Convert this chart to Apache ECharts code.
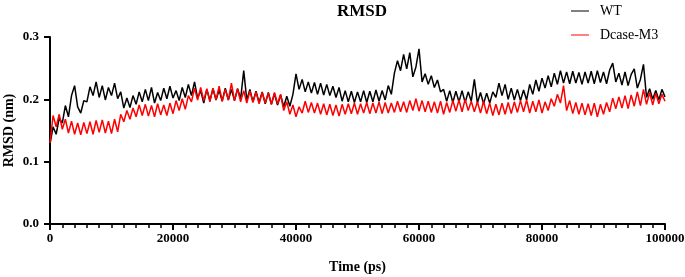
<!DOCTYPE html>
<html>
<head>
<meta charset="utf-8">
<script src="https://cdn.jsdelivr.net/npm/echarts@6/dist/echarts.min.js"></script>
<style>
  html, body { margin: 0; padding: 0; background: #fff; }
  #chart { width: 685px; height: 277px; }
</style>
</head>
<body>
<div id="chart"></div>
<script>
// time step of the sampled points (ps)
var step = 500;
var xTicks = [0, 20000, 40000, 60000, 80000, 100000];
var yTicks = [0.0, 0.1, 0.2, 0.3];

// RMSD (nm), every 500 ps (upper / lower edge of the noisy band)
var wt = [
  0.128, 0.156, 0.144, 0.170, 0.162, 0.190, 0.172, 0.206, 0.222, 0.188,
  0.178, 0.198, 0.196, 0.220, 0.206, 0.228, 0.203, 0.222, 0.199, 0.219,
  0.206, 0.226, 0.201, 0.212, 0.186, 0.202, 0.187, 0.206, 0.192, 0.212,
  0.196, 0.216, 0.198, 0.219, 0.194, 0.211, 0.198, 0.218, 0.201, 0.221,
  0.202, 0.214, 0.198, 0.219, 0.203, 0.224, 0.206, 0.228, 0.202, 0.214,
  0.194, 0.216, 0.198, 0.217, 0.199, 0.215, 0.197, 0.218, 0.199, 0.216,
  0.198, 0.217, 0.201, 0.246, 0.199, 0.216, 0.196, 0.213, 0.195, 0.212,
  0.193, 0.211, 0.192, 0.209, 0.191, 0.207, 0.188, 0.205, 0.189, 0.208,
  0.241, 0.216, 0.232, 0.212, 0.228, 0.210, 0.227, 0.208, 0.226, 0.207,
  0.224, 0.206, 0.221, 0.203, 0.219, 0.197, 0.214, 0.196, 0.213, 0.195,
  0.212, 0.196, 0.214, 0.195, 0.213, 0.196, 0.215, 0.197, 0.214, 0.199,
  0.222, 0.208, 0.242, 0.262, 0.246, 0.272, 0.249, 0.275, 0.236, 0.252,
  0.281, 0.228, 0.241, 0.224, 0.238, 0.219, 0.231, 0.212, 0.216, 0.197,
  0.214, 0.195, 0.213, 0.196, 0.214, 0.195, 0.212, 0.197, 0.232, 0.194,
  0.211, 0.193, 0.210, 0.194, 0.212, 0.203, 0.226, 0.206, 0.224, 0.200,
  0.218, 0.199, 0.216, 0.198, 0.215, 0.199, 0.224, 0.208, 0.231, 0.213,
  0.234, 0.218, 0.238, 0.220, 0.242, 0.224, 0.246, 0.226, 0.244, 0.225,
  0.245, 0.226, 0.243, 0.224, 0.244, 0.226, 0.245, 0.225, 0.246, 0.227,
  0.244, 0.225, 0.247, 0.258, 0.228, 0.242, 0.223, 0.244, 0.222, 0.240,
  0.249, 0.218, 0.232, 0.256, 0.203, 0.217, 0.200, 0.214, 0.199, 0.216,
  0.204
];

var m3 = [
  0.130, 0.174, 0.156, 0.176, 0.152, 0.168, 0.146, 0.165, 0.144, 0.162,
  0.143, 0.163, 0.145, 0.164, 0.144, 0.166, 0.147, 0.167, 0.146, 0.165,
  0.145, 0.168, 0.148, 0.176, 0.164, 0.182, 0.168, 0.186, 0.172, 0.191,
  0.174, 0.192, 0.173, 0.190, 0.172, 0.193, 0.175, 0.191, 0.174, 0.194,
  0.177, 0.198, 0.182, 0.201, 0.184, 0.206, 0.196, 0.218, 0.199, 0.219,
  0.198, 0.217, 0.196, 0.218, 0.199, 0.221, 0.197, 0.216, 0.199, 0.226,
  0.198, 0.217, 0.196, 0.214, 0.194, 0.213, 0.195, 0.212, 0.193, 0.211,
  0.194, 0.210, 0.192, 0.211, 0.193, 0.208, 0.182, 0.196, 0.176, 0.191,
  0.172, 0.188, 0.178, 0.197, 0.179, 0.195, 0.178, 0.194, 0.176, 0.193,
  0.175, 0.192, 0.174, 0.191, 0.173, 0.192, 0.176, 0.193, 0.177, 0.194,
  0.176, 0.193, 0.178, 0.195, 0.177, 0.194, 0.178, 0.196, 0.177, 0.195,
  0.178, 0.194, 0.179, 0.197, 0.180, 0.196, 0.179, 0.198, 0.182, 0.201,
  0.181, 0.198, 0.180, 0.197, 0.179, 0.196, 0.178, 0.197, 0.176, 0.195,
  0.179, 0.198, 0.181, 0.199, 0.180, 0.200, 0.182, 0.197, 0.180, 0.196,
  0.178, 0.197, 0.177, 0.194, 0.174, 0.192, 0.175, 0.194, 0.176, 0.195,
  0.177, 0.196, 0.179, 0.198, 0.180, 0.199, 0.178, 0.197, 0.180, 0.199,
  0.178, 0.196, 0.182, 0.201, 0.189, 0.208, 0.194, 0.222, 0.182, 0.198,
  0.177, 0.195, 0.176, 0.194, 0.175, 0.193, 0.174, 0.194, 0.172, 0.192,
  0.176, 0.195, 0.180, 0.202, 0.185, 0.204, 0.186, 0.206, 0.185, 0.207,
  0.189, 0.212, 0.190, 0.216, 0.192, 0.211, 0.191, 0.210, 0.193, 0.208,
  0.197
];

function pairs(arr) {
  return arr.map(function (v, i) { return [i * step, v]; });
}

var font = '"Liberation Serif", "Times New Roman", serif';
var chart = echarts.init(document.getElementById('chart'));

chart.setOption({
  animation: false,
  backgroundColor: '#fff',
  title: {
    text: 'RMSD',
    left: 357,
    textAlign: 'center',
    top: -2,
    textStyle: { fontFamily: font, fontWeight: 'bold', fontSize: 17, color: '#000' }
  },
  legend: {
    orient: 'vertical',
    left: 566,
    top: -1,
    itemWidth: 18,
    itemHeight: 14,
    itemGap: 10,
    icon: 'path://M0,7 L18,7 L18,8 L0,8 Z',
    textStyle: { fontFamily: font, fontSize: 14, color: '#000', padding: [0, 0, 0, 6] },
    data: ['WT', 'Dcase-M3']
  },
  grid: { left: 50, right: 20, top: 37, bottom: 53, outerBoundsMode: 'none', containLabel: false },
  xAxis: [
    {
      type: 'value',
      min: 0,
      max: 100000,
      interval: 20000,
      name: 'Time (ps)',
      nameLocation: 'middle',
      nameGap: 36,
      nameMoveOverlap: false,
      nameTextStyle: { fontFamily: font, fontWeight: 'bold', fontSize: 14, color: '#000' },
      axisLine: { onZero: false, lineStyle: { color: '#000', width: 2 } },
      axisTick: { length: 6, lineStyle: { color: '#000', width: 2 } },
      axisLabel: {
        fontFamily: font, fontWeight: 'bold', fontSize: 13, color: '#000', margin: 8,
        formatter: function (v) { return xTicks.indexOf(v) >= 0 ? String(v) : ''; }
      },
      splitLine: { show: false }
    },
    {
      // small ticks every 2000 ps
      type: 'value',
      position: 'bottom',
      min: 0,
      max: 100000,
      interval: 2000,
      axisLine: { show: false, onZero: false },
      axisTick: { show: true, length: 4, lineStyle: { color: '#000', width: 1.5 } },
      axisLabel: { show: false },
      splitLine: { show: false }
    }
  ],
  yAxis: {
    type: 'value',
    min: 0,
    max: 0.3,
    interval: 0.1,
    name: 'RMSD (nm)',
    nameLocation: 'middle',
    nameGap: 34,
    nameMoveOverlap: false,
    nameTextStyle: { fontFamily: font, fontWeight: 'bold', fontSize: 14, color: '#000' },
    axisLine: { show: true, onZero: false, lineStyle: { color: '#000', width: 2 } },
    axisTick: { show: true, length: 6, lineStyle: { color: '#000', width: 2 } },
    axisLabel: {
      fontFamily: font, fontWeight: 'bold', fontSize: 13, color: '#000', margin: 11,
      formatter: function (v) {
        var t = yTicks.filter(function (k) { return Math.abs(k - v) < 1e-9; });
        return t.length ? t[0].toFixed(1) : '';
      }
    },
    splitLine: { show: false }
  },
  series: [
    {
      name: 'WT',
      type: 'line',
      symbol: 'none',
      data: pairs(wt),
      lineStyle: { color: '#000', width: 1.5 },
      itemStyle: { color: '#000' }
    },
    {
      name: 'Dcase-M3',
      type: 'line',
      symbol: 'none',
      data: pairs(m3),
      lineStyle: { color: '#ff0000', width: 1.5 },
      itemStyle: { color: '#ff0000' }
    }
  ]
});
</script>
</body>
</html>
